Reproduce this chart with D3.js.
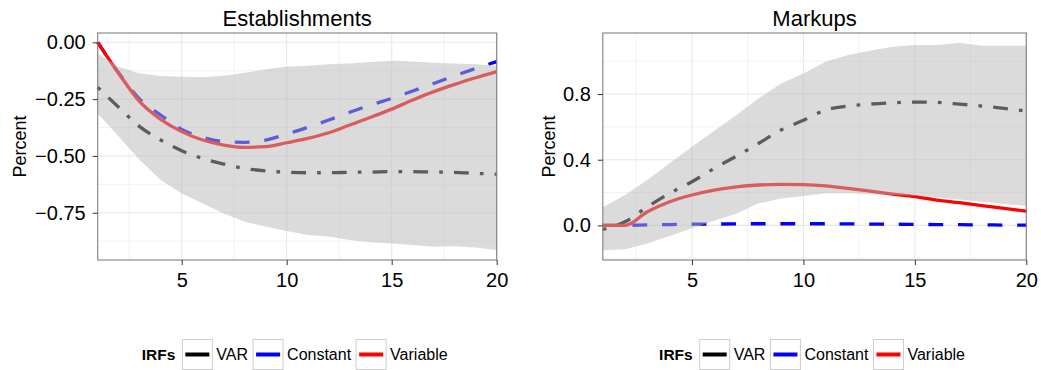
<!DOCTYPE html>
<html>
<head>
<meta charset="utf-8">
<script src="https://cdn.jsdelivr.net/npm/d3@7"></script>
<style>
  body { margin: 0; background: #fff; }
  text { font-family: "Liberation Sans", Arial, sans-serif; }
</style>
</head>
<body>
<div id="chart"></div>
<script>
// horizon (quarters after the shock)
const horizon = [1, 2, 3, 4, 5, 6, 7, 8, 9, 10, 11, 12, 13, 14, 15, 16, 17, 18, 19, 20]

// Establishments panel
const estVar = [-0.198, -0.286, -0.371, -0.43, -0.477, -0.511, -0.536, -0.555, -0.566, -0.572, -0.574, -0.574, -0.572, -0.571, -0.569, -0.569, -0.571, -0.572, -0.577, -0.58]
const estConstant = [0, -0.135, -0.25, -0.32, -0.383, -0.418, -0.437, -0.44, -0.43, -0.404, -0.374, -0.342, -0.308, -0.276, -0.247, -0.214, -0.181, -0.147, -0.115, -0.085]
const estVariable = [0, -0.137, -0.261, -0.339, -0.393, -0.43, -0.452, -0.462, -0.459, -0.442, -0.423, -0.398, -0.364, -0.33, -0.294, -0.254, -0.217, -0.185, -0.156, -0.129]
const estUpper = [-0.048, -0.107, -0.137, -0.148, -0.151, -0.154, -0.147, -0.134, -0.119, -0.107, -0.103, -0.097, -0.093, -0.087, -0.081, -0.084, -0.09, -0.093, -0.097, -0.103]
const estLower = [-0.313, -0.415, -0.518, -0.606, -0.665, -0.709, -0.753, -0.79, -0.811, -0.83, -0.848, -0.855, -0.87, -0.88, -0.885, -0.892, -0.9, -0.897, -0.903, -0.914]

// Markups panel
const mkVar = [-0.025, 0.022, 0.113, 0.195, 0.266, 0.347, 0.422, 0.5, 0.581, 0.64, 0.703, 0.727, 0.739, 0.747, 0.751, 0.749, 0.739, 0.727, 0.713, 0.697]
const mkConstant = [0, 0, 0.003, 0.005, 0.007, 0.008, 0.009, 0.01, 0.01, 0.01, 0.01, 0.009, 0.008, 0.007, 0.006, 0.005, 0.004, 0.003, 0.002, 0.001]
const mkVariable = [0, 0, 0.083, 0.144, 0.185, 0.215, 0.235, 0.246, 0.25, 0.248, 0.24, 0.225, 0.209, 0.191, 0.175, 0.154, 0.138, 0.12, 0.104, 0.087]
const mkUpper = [0.11, 0.185, 0.276, 0.378, 0.479, 0.577, 0.672, 0.774, 0.865, 0.926, 0.997, 1.038, 1.064, 1.088, 1.099, 1.099, 1.113, 1.095, 1.094, 1.094]
const mkLower = [-0.151, -0.146, -0.11, -0.065, -0.018, 0.028, 0.073, 0.134, 0.164, 0.179, 0.195, 0.195, 0.19, 0.185, 0.18, 0.17, 0.158, 0.144, 0.13, 0.12]

// ticks
const xTicks = [5, 10, 15, 20]
const xMinor = [2.5, 7.5, 12.5, 17.5]
const estTicks = [0, -0.25, -0.5, -0.75]
const estMinor = [-0.125, -0.375, -0.625, -0.875]
const mkTicks = [0, 0.4, 0.8]
const mkMinor = [-0.2, 0.2, 0.6, 1.0]

const seriesNames = ["VAR", "Constant", "Variable"]
const seriesColors = ["black", "blue", "red"]

const width = 1041
const height = 370

const svg = d3.select("#chart").append("svg")
  .attr("width", width)
  .attr("height", height)

const lw = 3.3
const u = 3.7 // ggplot dash unit

const drawPanel = (p) => {
  const x = d3.scaleLinear().domain([1, 20]).range([p.left, p.right])
  const y = d3.scaleLinear().domain(p.yDomain).range([260, 33])
  const g = svg.append("g")

  // background + grid
  g.append("rect").attr("x", p.left).attr("y", 33)
    .attr("width", p.right - p.left).attr("height", 227).attr("fill", "white")
  g.selectAll(".minx").data(xMinor).join("line")
    .attr("x1", d => x(d)).attr("x2", d => x(d)).attr("y1", 33).attr("y2", 260)
    .attr("stroke", "#f2f2f2").attr("stroke-width", 1)
  g.selectAll(".miny").data(p.minor).join("line")
    .attr("x1", p.left).attr("x2", p.right).attr("y1", d => y(d)).attr("y2", d => y(d))
    .attr("stroke", "#f2f2f2").attr("stroke-width", 1)
  g.selectAll(".majx").data(xTicks).join("line")
    .attr("x1", d => x(d)).attr("x2", d => x(d)).attr("y1", 33).attr("y2", 260)
    .attr("stroke", "#e8e8e8").attr("stroke-width", 1.1)
  g.selectAll(".majy").data(p.ticks).join("line")
    .attr("x1", p.left).attr("x2", p.right).attr("y1", d => y(d)).attr("y2", d => y(d))
    .attr("stroke", "#e8e8e8").attr("stroke-width", 1.1)

  // smooth IRF lines
  const line = (vals) => d3.line().curve(d3.curveMonotoneX)
    .x((d, i) => x(horizon[i])).y(d => y(d))(vals)

  // lines: VAR dotdash, Constant dashed, Variable solid
  g.append("path").attr("d", line(p.var)).attr("fill", "none")
    .attr("stroke", "black").attr("stroke-width", lw)
    .attr("stroke-dasharray", [u, 3 * u, 4 * u, 3 * u].join(","))
  g.append("path").attr("d", line(p.constant)).attr("fill", "none")
    .attr("stroke", "blue").attr("stroke-width", lw)
    .attr("stroke-dasharray", [4 * u, 4 * u].join(","))
  g.append("path").attr("d", line(p.variable)).attr("fill", "none")
    .attr("stroke", "red").attr("stroke-width", lw)

  // confidence band on top
  const area = d3.area()
    .x((d, i) => x(horizon[i]))
    .y0((d, i) => y(p.lower[i]))
    .y1((d, i) => y(p.upper[i]))
  g.append("path").attr("d", area(p.upper))
    .attr("fill", "#b8b8b8").attr("fill-opacity", 0.5)

  // border
  g.append("rect").attr("x", p.left).attr("y", 33)
    .attr("width", p.right - p.left).attr("height", 227)
    .attr("fill", "none").attr("stroke", "#7f7f7f").attr("stroke-width", 1.1)

  // axes
  const xAxis = g.append("g").attr("transform", "translate(0,260)")
    .call(d3.axisBottom(x).tickValues(xTicks).tickSize(5).tickPadding(8))
  const yAxis = g.append("g").attr("transform", `translate(${p.left},0)`)
    .call(d3.axisLeft(y).tickValues(p.ticks).tickFormat(d3.format(p.fmt)).tickSize(5).tickPadding(7))
  for (const ax of [xAxis, yAxis]) {
    ax.select(".domain").remove()
    ax.selectAll("line").attr("stroke", "#333")
    ax.selectAll("text").attr("font-size", 20).attr("fill", "black")
      .attr("font-family", '"Liberation Sans", Arial, sans-serif')
  }

  // titles
  g.append("text").attr("x", (p.left + p.right) / 2).attr("y", 26)
    .attr("text-anchor", "middle").attr("font-size", 22).text(p.title)
  g.append("text")
    .attr("transform", `translate(${p.ytitleX},146.5) rotate(-90)`)
    .attr("text-anchor", "middle").attr("font-size", 18).text("Percent")

  // legend
  const lg = g.append("g")
  const title = lg.append("text").attr("y", 360).attr("font-size", 15.5)
    .attr("font-weight", "bold").text("IRFs")
  let cx = title.node().getComputedTextLength() + 7
  seriesNames.forEach((name, i) => {
    lg.append("rect").attr("x", cx).attr("y", 339.5).attr("width", 30).attr("height", 30)
      .attr("fill", "white").attr("stroke", "#cccccc").attr("stroke-width", 1)
    lg.append("line").attr("x1", cx + 3).attr("x2", cx + 27).attr("y1", 354.5).attr("y2", 354.5)
      .attr("stroke", seriesColors[i]).attr("stroke-width", 4)
    cx += 34
    const t = lg.append("text").attr("x", cx).attr("y", 360).attr("font-size", 16).text(name)
    cx += t.node().getComputedTextLength() + 5
  })
  const mid = (p.left + p.right) / 2
  lg.attr("transform", `translate(${mid - cx / 2},0)`)
}

drawPanel({
  title: "Establishments", left: 97.7, right: 496.7, yDomain: [-0.958, 0.041],
  ticks: estTicks, minor: estMinor, fmt: ".2f", ytitleX: 25.5,
  var: estVar, constant: estConstant, variable: estVariable, upper: estUpper, lower: estLower
})
drawPanel({
  title: "Markups", left: 602.8, right: 1026.3, yDomain: [-0.211, 1.172],
  ticks: mkTicks, minor: mkMinor, fmt: ".1f", ytitleX: 555,
  var: mkVar, constant: mkConstant, variable: mkVariable, upper: mkUpper, lower: mkLower
})
</script>
</body>
</html>
